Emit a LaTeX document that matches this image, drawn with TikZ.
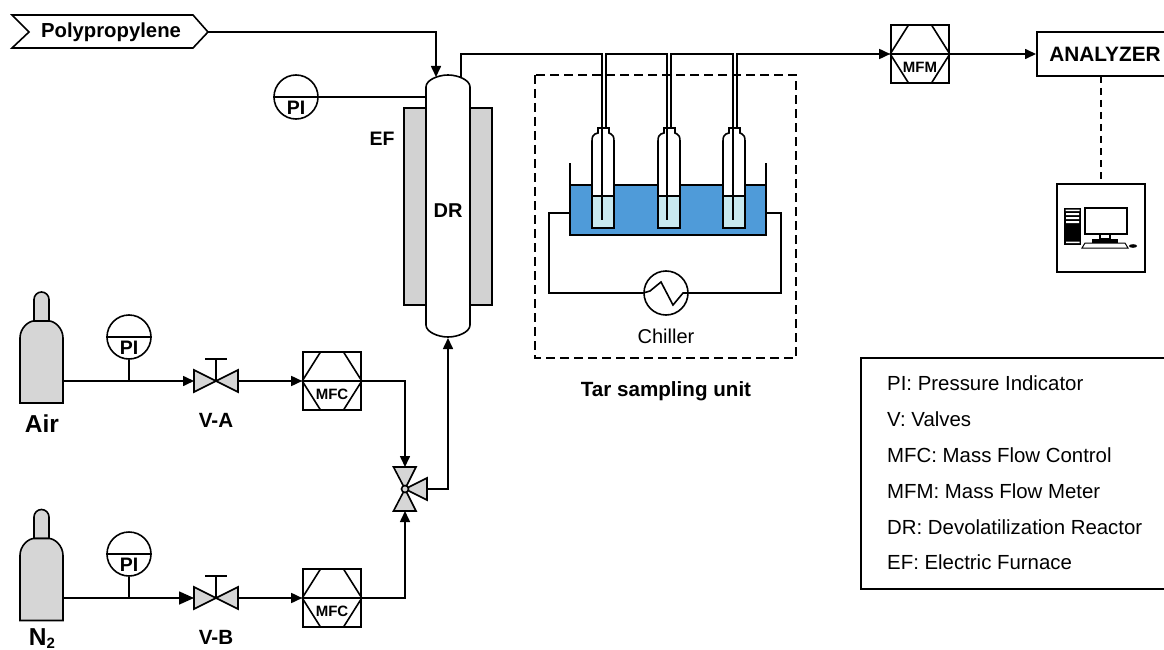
\documentclass[tikz,border=0pt]{standalone}
\usepackage{fontspec}
\setmainfont{Liberation Sans}
\usetikzlibrary{arrows.meta}
\definecolor{gasgray}{HTML}{D6D6D6}
\definecolor{furngray}{HTML}{D2D2D2}
\definecolor{bathblue}{HTML}{4F9BD9}
\definecolor{liquidblue}{HTML}{C8E9F0}
\newcommand{\fs}[1]{\fontsize{#1}{#1}\selectfont}
\tikzset{
  line/.style={draw=black,line width=1.6pt,line join=miter},
  pipe/.style={line,-{Triangle[length=11pt,width=10pt]}},
  bigpipe/.style={line,-{Triangle[length=15pt,width=13pt]}},
  plain/.style={line},
  lbl/.style={inner sep=0pt,font=\bfseries\fs{20.6}},
  small/.style={inner sep=0pt,font=\bfseries\fs{15}},
  legendtext/.style={inner sep=0pt,anchor=west,font=\fs{20.4}},
  grayfill/.style={line,fill=gasgray},
  flowbox/.style={line,rectangle,minimum width=58pt,minimum height=58pt,inner sep=0pt},
  gauge/.style={line,circle,minimum size=44pt,inner sep=0pt,fill=white},
}
% flow meter: name, x, y(center line), text
\newcommand{\flowmeter}[4]{
  \node[flowbox] (#1) at (#2,#3) {};
  \draw[plain] (#1.west) -- (#1.east);
  \draw[plain] (#2-11.5,#3-29) -- (#1.west) -- (#2-11.5,#3+29);
  \draw[plain] (#2+11.5,#3-29) -- (#1.east) -- (#2+11.5,#3+29);
  \node[small] (#1t) at (#2,#3+13) {#4};
}
% pressure gauge: name, x, y
\newcommand{\pressure}[3]{
  \node[gauge] (#1) at (#2,#3) {};
  \draw[plain] (#1.west) -- (#1.east);
  \node[lbl,font=\bfseries\fs{19.5}] (#1t) at (#2,#3+11) {PI};
}
% hand valve: name, x, y
\newcommand{\handvalve}[3]{
  \coordinate (#1) at (#2,#3);
  \coordinate (#1w) at (#2-22,#3);
  \coordinate (#1e) at (#2+22,#3);
  \filldraw[grayfill] (#2,#3) -- (#2-22,#3-11) -- (#2-22,#3+11) -- cycle;
  \filldraw[grayfill] (#2,#3) -- (#2+22,#3-11) -- (#2+22,#3+11) -- cycle;
  \draw[plain] (#2,#3) -- (#2,#3-22) (#2-11,#3-22) -- (#2+11,#3-22);
}
% gas cylinder: x-center, y top
\newcommand{\cylinder}[2]{
  \filldraw[grayfill] (#1-7.5,#2+29) -- (#1-7.5,#2+7.5) arc[start angle=180,end angle=0,x radius=7.5,y radius=-7.5] -- (#1+7.5,#2+29) -- cycle;
  \filldraw[grayfill] (#1-21.5,#2+111) -- (#1-21.5,#2+46) .. controls (#1-21.5,#2+36) and (#1-13,#2+29) .. (#1-7.5,#2+29) -- (#1+7.5,#2+29) .. controls (#1+13,#2+29) and (#1+21.5,#2+36) .. (#1+21.5,#2+46) -- (#1+21.5,#2+111) -- cycle;
}
% impinger bottle: x-left
\newcommand{\bottle}[1]{
  \fill[white] (#1,142) rectangle (#1+22,196);
  \fill[liquidblue] (#1,196) rectangle (#1+22,228);
  \draw[line,fill=white] (#1+6,128) -- (#1+17,128) -- (#1+17,133) -- (#1+19,134) .. controls (#1+21,135) and (#1+22,137) .. (#1+22,141) -- (#1,141) .. controls (#1,137) and (#1+1,135) .. (#1+3,134) -- (#1+6,133) -- cycle;
  \fill[white] (#1+0.8,139) rectangle (#1+21.2,195);
  \draw[line] (#1,141) -- (#1,228) -- (#1+22,228) -- (#1+22,141);
  \draw[line] (#1,196) -- (#1+22,196);
}
\begin{document}
\begin{tikzpicture}[x=1pt,y=-1pt]
\clip (0,0) rectangle (1164,650);
\fill[white] (0,0) rectangle (1164,650);

% Polypropylene feed
\draw[line,fill=white] (12,15) -- (193,15) -- (208,32) -- (193,48) -- (12,48) -- (29,32) -- cycle;
\node[lbl,font=\bfseries\fs{20.3}] (pp) at (111,32) {Polypropylene};
\coordinate (pptip) at (208,32);

% furnace
\filldraw[line,fill=furngray] (404,108) rectangle (426,305);
\filldraw[line,fill=furngray] (470,108) rectangle (492,305);
% reactor
\draw[line,fill=white] (426,87) .. controls (426,80) and (438,75) .. (448,75) .. controls (458,75) and (470,80) .. (470,87) -- (470,325) .. controls (470,332) and (458,337) .. (448,337) .. controls (438,337) and (426,332) .. (426,325) -- cycle;
\coordinate (drtop) at (436,77);
\coordinate (drout) at (461,78);
\coordinate (drpi) at (426,97);
\coordinate (drbot) at (448,338);
\node[lbl,font=\bfseries\fs{20}] (dr) at (448,211) {DR};
\node[lbl,font=\bfseries\fs{19.5}] (ef) at (382,139) {EF};
\draw[pipe] (pptip) -| (drtop);

\pressure{pi0}{296}{97}
\draw[plain] (pi0.east) -- (drpi);

% tar sampling unit
\draw[line,dash pattern=on 9pt off 5pt] (535,75) rectangle (796,358);
\draw[line] (570,163) -- (570,185) (766,163) -- (766,185);
\filldraw[line,fill=bathblue] (570,185) rectangle (766,235);
\bottle{592}
\bottle{658}
\bottle{723}
% tubes
\coordinate (b1in) at (602,220);
\coordinate (b1out) at (606,128);
\coordinate (b2in) at (667,220);
\coordinate (b2out) at (671,128);
\coordinate (b3in) at (733,220);
\coordinate (b3out) at (737,128);
\draw[plain] (drout) |- (602,54) -- (b1in);
\draw[plain] (b1out) -- (606,54) -- (667,54) -- (b2in);
\draw[plain] (b2out) -- (671,54) -- (733,54) -- (b3in);

% chiller
\node[line,circle,minimum size=44pt,inner sep=0pt] (ch) at (666,293) {};
\draw[plain] (570,213) -- (549,213) |- (ch.west);
\draw[plain] (766,213) -- (781,213) |- (ch.east);
\draw[plain] (ch.west) -- (650,291) -- (661,282) -- (673,305) -- (683,293) -- (ch.east);
\node[inner sep=0pt,font=\fs{20}] (chl) at (666,336) {Chiller};
\node[lbl] (tar) at (666,391) {Tar sampling unit};

% MFM and analyzer
\flowmeter{mfm}{920}{54}{MFM}
\draw[pipe] (b3out) -- (737,54) -- (mfm.west);
\node[line,rectangle,minimum width=148pt,minimum height=44pt,inner sep=0pt,anchor=west] (an) at (1036,54) {};
\node[lbl,font=\bfseries\fs{20.8}] (ant) at (1105,54) {ANALYZER};
\draw[pipe] (mfm.east) -- (an.west);
\node[line,rectangle,minimum width=88pt,minimum height=88pt,inner sep=0pt] (pc) at (1101,228) {};
\draw[line,dash pattern=on 7pt off 5pt] (1101,76) -- (pc.north);
% computer icon
\fill[black] (1064,208) rectangle (1081,245);
\fill[white] (1065.5,209.5) rectangle (1079.5,211) (1066,213) rectangle (1079,215) (1066,217) rectangle (1079,219) (1066,221) rectangle (1079,223) (1066,241.5) rectangle (1079.5,243);
\draw[line] (1085,208) rectangle (1127,234);
\draw[line width=1.2pt] (1100,234) rectangle (1110,239);
\fill[black] (1092,239) rectangle (1118,242.5);
\draw[line width=1pt,fill=white] (1082,248) -- (1085,243) -- (1125,243) -- (1128,248) -- cycle;
\fill[black] (1133,246) ellipse[x radius=4,y radius=1.8];

% legend
\draw[line] (1180,358) -- (861,358) -- (861,589) -- (1180,589);
\node[legendtext] (l1) at (887,383) {PI: Pressure Indicator};
\node[legendtext] (l2) at (887,419) {V: Valves};
\node[legendtext] (l3) at (887,455) {MFC: Mass Flow Control};
\node[legendtext] (l4) at (887,491) {MFM: Mass Flow Meter};
\node[legendtext] (l5) at (887,527) {DR: Devolatilization Reactor};
\node[legendtext] (l6) at (887,562) {EF: Electric Furnace};

% Air line
\cylinder{41.5}{292}
\coordinate (airo) at (63,381);
\node[lbl,font=\bfseries\fs{24.5}] (airt) at (42,424) {Air};
\pressure{pi1}{129}{337}
\handvalve{va}{216}{381}
\node[lbl] (vat) at (216,420) {V-A};
\flowmeter{mfca}{332}{381}{MFC}
\draw[plain] (pi1.south) -- (129,381);
\draw[pipe] (airo) -- (vaw);
\draw[pipe] (vae) -- (mfca.west);

% N2 line
\cylinder{41.5}{509.5}
\coordinate (n2o) at (63,598);
\node[lbl,font=\bfseries\fs{24.5}] (n2t) at (42,638.5) {N\raisebox{-2.5pt}{\fs{15}2}};
\pressure{pi2}{129}{554}
\handvalve{vb}{216}{598}
\node[lbl] (vbt) at (216,637) {V-B};
\flowmeter{mfcb}{332}{598}{MFC}
\draw[plain] (pi2.south) -- (129,598);
\draw[bigpipe] (n2o) -- (vbw);
\draw[pipe] (vbe) -- (mfcb.west);

% three-way valve
\coordinate (tv) at (405,489);
\coordinate (tvn) at (405,467);
\coordinate (tvs) at (405,511);
\coordinate (tve) at (427,489);
\filldraw[grayfill] (tv) -- (393.5,467) -- (416,467) -- cycle;
\filldraw[grayfill] (tv) -- (393.5,511) -- (416,511) -- cycle;
\filldraw[grayfill] (tv) -- (427,478) -- (427,500) -- cycle;
\filldraw[grayfill] (tv) circle[radius=3.5];
\draw[pipe] (mfca.east) -| (tvn);
\draw[pipe] (mfcb.east) -| (tvs);
\draw[pipe] (tve) -| (drbot);
\end{tikzpicture}
\end{document}
